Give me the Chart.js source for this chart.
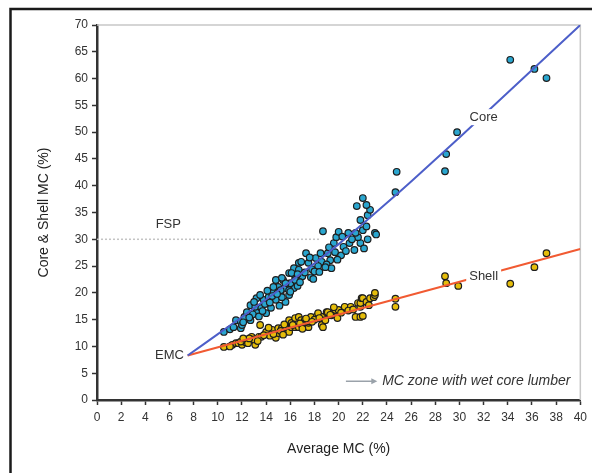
<!DOCTYPE html>
<html>
<head>
<meta charset="utf-8">
<script src="https://cdn.jsdelivr.net/npm/chart.js@4"></script>
<style>
  html, body { margin: 0; padding: 0; background: #fff; }
  #wrap { width: 592px; height: 473px; position: relative; }
</style>
</head>
<body>
<div id="wrap"><canvas id="mcChart"></canvas></div>
<script>
// Core MC points (average MC, core MC)
const corePoints = [
  [10.5,12.7],[11.0,13.2],[11.3,13.6],[11.9,13.4],[11.5,14.9],[11.9,14.6],[12.7,14.9],[12.2,15.5],
  [12.4,16.4],[13.2,16.4],[14.0,16.2],[12.7,17.7],[13.1,17.4],[13.6,17.2],[14.4,17.2],[13.2,19.0],
  [13.8,18.7],[14.2,19.2],[14.8,18.7],[15.6,18.3],[15.9,19.6],[14.6,20.2],[15.2,20.0],[15.0,21.1],
  [15.6,20.9],[16.3,20.9],[15.4,22.4],[16.0,21.8],[16.4,23.0],[15.9,23.7],[16.3,24.6],[16.7,25.6],
  [15.9,20.5],[15.2,20.5],[14.6,21.1],[15.6,21.8],[16.4,22.4],[14.8,22.4],[15.3,22.8],[16.1,23.7],
  [16.7,24.3],[16.9,25.8],[17.5,25.6],[17.3,27.4],[18.1,26.5],[18.6,25.8],[19.3,26.1],[18.5,27.4],
  [19.1,27.4],[19.7,27.6],[20.4,28.6],[19.6,29.3],[20.9,29.3],[21.8,29.3],[19.8,30.4],[21.6,30.4],
  [18.7,31.5],[20.0,31.4],[22.0,31.7],[23.0,31.2],[21.8,33.6],[22.4,34.5],[22.6,35.5],[21.5,36.2],
  [22.3,36.4],[22.0,37.7],[12.9,16.0],[13.9,17.9],[14.3,18.2],[17.0,23.1],[17.8,24.4],[18.3,25.0],
  [19.0,25.3],[20.2,27.0],[21.3,28.0],[22.1,28.3],[17.7,22.9],[19.4,24.6],[20.8,31.2],[22.3,32.4],
  [12.0,14.0],[12.6,15.4],[13.4,15.6],[13.0,18.3],[13.5,19.6],[14.1,20.4],[14.5,19.4],[15.1,17.6],
  [15.3,19.2],[16.0,20.2],[16.6,21.3],[16.8,22.0],[17.2,23.8],[17.9,22.6],[18.0,24.0],[18.4,23.9],
  [18.9,24.8],[19.2,28.5],[19.9,26.2],[20.6,27.8],[20.3,30.5],[21.1,30.0],[21.4,31.2],[22.4,30.0],
  [23.1,30.9],[17.6,26.6],[16.6,23.5],[14.9,19.8],[13.7,16.6],[12.1,14.5],
  [24.7,38.8],[24.8,42.6],[28.8,42.7],[28.9,45.9],[29.8,50.0],[34.2,63.5],[36.2,61.8],[37.2,60.1]
];

// Shell MC points (average MC, shell MC)
const shellPoints = [
  [10.5,9.9],[11.2,10.3],[11.5,10.6],[11.7,10.6],[12.0,10.3],[12.3,10.8],[12.3,11.2],[12.8,11.2],
  [12.8,11.8],[13.1,10.3],[13.4,11.8],[13.6,11.8],[13.5,14.0],[14.0,12.5],[14.0,12.7],[14.5,13.1],
  [14.8,11.6],[15.0,12.5],[15.0,13.4],[15.3,13.4],[15.6,13.1],[15.6,13.6],[15.9,12.7],[15.9,14.4],
  [15.9,14.9],[16.1,13.6],[16.1,14.4],[16.4,13.6],[16.4,15.3],[16.7,13.6],[16.7,15.5],[16.9,14.9],
  [17.2,14.9],[17.5,13.6],[17.5,14.4],[17.5,14.7],[17.7,15.5],[18.2,15.7],[18.3,16.2],[18.6,14.0],
  [18.7,13.6],[18.7,15.5],[19.0,16.4],[19.1,16.4],[19.7,16.2],[19.7,16.8],[19.9,15.3],[20.0,16.8],
  [20.5,17.2],[20.5,17.4],[21.0,17.4],[21.4,15.5],[21.6,18.1],[21.8,15.5],[21.8,17.4],[21.8,18.1],
  [21.9,19.0],[22.0,15.7],[22.0,19.0],[22.3,18.3],[22.6,19.0],[22.9,19.2],[23.0,19.6],[23.0,20.0],
  [13.0,11.3],[14.3,12.0],[16.9,14.2],[18.0,15.0],[19.4,15.8],[12.5,10.6],
  [11.0,10.0],[11.9,10.9],[12.6,11.5],[13.3,11.0],[13.8,12.1],[14.2,13.5],[14.6,12.3],[15.2,12.9],
  [15.5,14.1],[16.2,14.0],[16.8,14.3],[17.3,15.2],[17.8,14.6],[18.4,15.3],[18.9,14.9],[19.3,15.9],
  [20.2,16.3],[20.8,16.7],[21.2,16.9],[22.5,17.7],[19.6,17.3],[17.0,13.3],[15.4,12.2],[12.1,11.5],
  [24.7,17.4],[24.7,18.9],[28.8,23.1],[28.9,21.8],[29.9,21.3],[34.2,21.7],[36.2,24.8],[37.2,27.4]
];

// Fitted curves, starting at the EMC point
const coreFit = [
  [7.5,8.3],[10,12.3],[12,15.5],[14,18.8],[16,22.1],[18,25.5],[20,29.1],[22,32.9],
  [24,36.8],[26,40.8],[28,44.9],[30,49.0],[32,53.2],[34,57.4],[36,61.6],[38,65.8],[40,70]
];
const shellFit = [[7.5,8.3],[40,28.2]];

// Fibre saturation point marker line
const fspLine = [[0,30],[18.5,30]];

// Text annotations placed in data units
const textLabels = [
  { text: "Core",  x: 32.0, y: 52.8, blank: true },
  { text: "Shell", x: 32.0, y: 23.0, blank: true },
  { text: "EMC",   x: 6.0,  y: 8.4,  blank: true },
  { text: "FSP",   x: 5.9,  y: 32.7, blank: false }
];
const zoneArrow = { x1: 20.6, x2: 23.2, y: 3.5, text: "MC zone with wet core lumber", textX: 23.6 };

const toXY = arr => arr.map(p => ({ x: p[0], y: p[1] }));
const FONT = "'Liberation Sans', Arial, sans-serif";

const decoPlugin = {
  id: "deco",
  beforeDraw(chart) {
    const c = chart.ctx;
    c.save();
    c.fillStyle = "#fff";
    c.fillRect(0, 0, chart.width, chart.height);
    // outer frame (left + top)
    c.strokeStyle = "#1a1a1a";
    c.lineWidth = 2.5;
    c.beginPath();
    c.moveTo(10.5, chart.height);
    c.lineTo(10.5, 9);
    c.lineTo(chart.width, 9);
    c.stroke();
    c.restore();
  },
  beforeDatasetsDraw(chart) {
    const c = chart.ctx;
    const a = chart.chartArea;
    c.save();
    c.strokeStyle = "#c8c8c8";
    c.lineWidth = 1.5;
    c.beginPath();
    c.moveTo(a.left, a.top);
    c.lineTo(a.right, a.top);
    c.lineTo(a.right, a.bottom);
    c.stroke();
    c.restore();
  },
  afterDatasetsDraw(chart) {
    const c = chart.ctx;
    const xs = chart.scales.x, ys = chart.scales.y;
    c.save();
    c.font = "13px " + FONT;
    c.textAlign = "center";
    c.textBaseline = "middle";
    textLabels.forEach(l => {
      const px = xs.getPixelForValue(l.x), py = ys.getPixelForValue(l.y);
      const w = c.measureText(l.text).width;
      if (l.blank) {
        c.fillStyle = "#fff";
        c.fillRect(px - w / 2 - 3, py - 8, w + 6, 16);
      }
      c.fillStyle = "#333";
      c.fillText(l.text, px, py);
    });
    // arrow + zone text
    const ay = ys.getPixelForValue(zoneArrow.y);
    const ax1 = xs.getPixelForValue(zoneArrow.x1), ax2 = xs.getPixelForValue(zoneArrow.x2);
    c.strokeStyle = "#9aa2aa";
    c.fillStyle = "#9aa2aa";
    c.lineWidth = 1.5;
    c.beginPath();
    c.moveTo(ax1, ay);
    c.lineTo(ax2 - 4, ay);
    c.stroke();
    c.beginPath();
    c.moveTo(ax2, ay);
    c.lineTo(ax2 - 6, ay - 3);
    c.lineTo(ax2 - 6, ay + 3);
    c.closePath();
    c.fill();
    c.font = "italic 14px " + FONT;
    c.fillStyle = "#333";
    c.textAlign = "left";
    c.fillText(zoneArrow.text, xs.getPixelForValue(zoneArrow.textX), ay);
    c.restore();
  }
};

const tickFont = { family: FONT, size: 12 };
const titleFont = { family: FONT, size: 14 };

new Chart(document.getElementById("mcChart").getContext("2d"), {
  type: "scatter",
  data: {
    datasets: [
      {
        label: "FSP",
        data: toXY(fspLine),
        showLine: true,
        borderColor: "#c4c4c4",
        borderWidth: 1.5,
        borderDash: [2, 2],
        pointRadius: 0,
        order: 3
      },
      {
        label: "Core",
        data: toXY(corePoints),
        backgroundColor: "#2aa6cf",
        borderColor: "#1e1e1e",
        borderWidth: 1.2,
        pointRadius: 3.3,
        order: 2
      },
      {
        label: "Shell",
        data: toXY(shellPoints),
        backgroundColor: "#e5bd0a",
        borderColor: "#1e1e1e",
        borderWidth: 1.2,
        pointRadius: 3.3,
        order: 2
      },
      {
        label: "Core fit",
        data: toXY(coreFit),
        showLine: true,
        borderColor: "#4d5fc9",
        borderWidth: 2,
        pointRadius: 0,
        tension: 0.3,
        order: 1
      },
      {
        label: "Shell fit",
        data: toXY(shellFit),
        showLine: true,
        borderColor: "#f15a32",
        borderWidth: 2,
        pointRadius: 0,
        order: 1
      }
    ]
  },
  options: {
    responsive: true,
    maintainAspectRatio: false,
    animation: false,
    layout: { padding: { left: 12, top: 25, right: 8, bottom: 0 } },
    plugins: {
      legend: { display: false },
      tooltip: { enabled: false }
    },
    scales: {
      x: {
        type: "linear",
        min: 0,
        max: 40,
        afterFit: s => { s.height = 73; },
        ticks: { stepSize: 2, color: "#333", font: tickFont, padding: 5, maxRotation: 0, autoSkip: false },
        grid: { drawOnChartArea: false, drawTicks: true, tickLength: 5, tickColor: "#333", tickWidth: 1.5 },
        border: { color: "#333", width: 2.5 },
        title: { display: true, text: "Average MC (%)", color: "#222", font: titleFont, padding: { top: 0, bottom: 15 } }
      },
      y: {
        type: "linear",
        min: 0,
        max: 70,
        afterFit: s => { s.width = 85; },
        ticks: { stepSize: 5, color: "#333", font: tickFont, padding: 4 },
        grid: { drawOnChartArea: false, drawTicks: true, tickLength: 5, tickColor: "#333", tickWidth: 1.5 },
        border: { color: "#333", width: 2.5 },
        title: { display: true, text: "Core & Shell MC (%)", color: "#222", font: titleFont, padding: { top: 24, bottom: 0 } }
      }
    }
  },
  plugins: [decoPlugin]
});
</script>
</body>
</html>
